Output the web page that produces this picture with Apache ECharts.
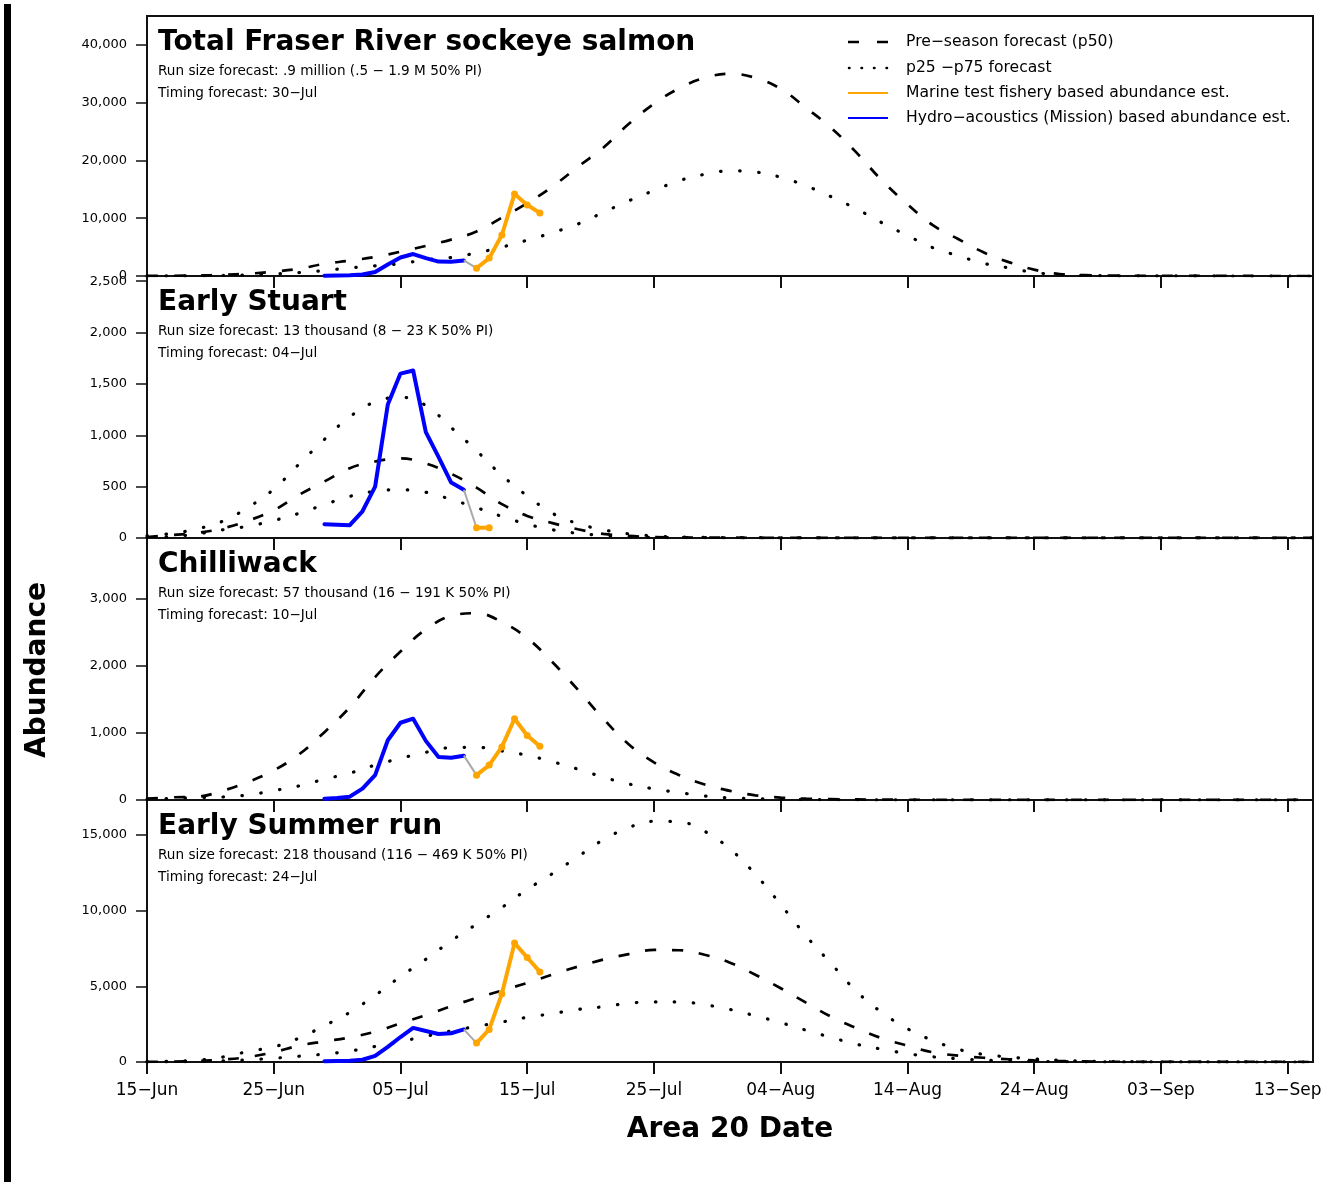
<!DOCTYPE html>
<html>
<head>
<meta charset="utf-8">
<script src="https://cdn.jsdelivr.net/npm/echarts@6/dist/echarts.min.js"></script>
<style>
html,body{margin:0;padding:0;background:#fff;}
#c{width:1330px;height:1182px;}
</style>
</head>
<body>
<div id="c"></div>
<script>
// ---------- X axis (days since 15-Jun) ----------
const forecastDays = [0,2,4,6,8,10,12,14,16,18,20,22,24,26,28,30,32,34,36,38,40,42,44,46,48,50,52,54,56,58,60,62,64,66,68,70,72,74,76,78,80,82,84,86,88,90,92];
const xTickDays = [0,10,20,30,40,50,60,70,80,90];
const xTickLabels = ['15\u2212Jun','25\u2212Jun','05\u2212Jul','15\u2212Jul','25\u2212Jul','04\u2212Aug','14\u2212Aug','24\u2212Aug','03\u2212Sep','13\u2212Sep'];

// ---------- Panel texts ----------
const panelTitles = ['Total Fraser River sockeye salmon','Early Stuart','Chilliwack','Early Summer run'];
const runSizeTexts = [
  'Run size forecast: .9 million (.5 \u2212 1.9 M 50% PI)',
  'Run size forecast: 13 thousand (8 \u2212 23 K 50% PI)',
  'Run size forecast: 57 thousand (16 \u2212 191 K 50% PI)',
  'Run size forecast: 218 thousand (116 \u2212 469 K 50% PI)'
];
const timingTexts = ['Timing forecast: 30\u2212Jul','Timing forecast: 04\u2212Jul','Timing forecast: 10\u2212Jul','Timing forecast: 24\u2212Jul'];

// ---------- Y ticks ----------
const yTicksTotal = [0,10000,20000,30000,40000];
const yTicksStuart = [0,500,1000,1500,2000,2500];
const yTicksChilli = [0,1000,2000,3000];
const yTicksSummer = [0,5000,10000,15000];
const yMaxes = [45000, 2550, 3900, 17300];

// ---------- Total Fraser ----------
const totalP50 = [20,40,90,200,400,750,1250,2100,2650,3300,
  4200,5200,6300,7700,10100,12600,15500,18900,22200,26300,
  29800,32500,34300,35000,34300,32400,29100,25600,21300,16500,
  12400,8800,6400,4100,2400,1100,350,150,70,40,
  20,10,8,5,4,3,2];
const totalP25 = [10,20,40,90,180,350,600,950,1400,1750,
  2150,2800,3200,4000,5000,6200,7500,9000,11000,13000,
  14800,16500,17600,18200,18000,17100,15600,13700,11600,9200,
  7000,4900,3500,2200,1400,600,250,100,50,25,
  12,8,5,4,3,2,1];

// ---------- Early Stuart ----------
const stuartP50 = [10,30,50,95,170,270,420,550,680,745,
  775,725,625,490,330,215,145,85,40,20,
  10,6,4,3,2,2,1,1,1,1,
  1,1,1,1,1,1,1,1,1,1,
  1,1,1,1,1,1,1];
const stuartP75 = [20,45,90,165,300,475,720,960,1180,1325,
  1370,1290,1075,850,610,410,240,140,80,40,
  20,10,6,4,3,2,2,1,1,1,
  1,1,1,1,1,1,1,1,1,1,
  1,1,1,1,1,1,1];
const stuartP25 = [5,15,40,80,115,170,240,325,405,455,
  470,445,375,295,210,135,80,45,25,12,
  6,4,3,2,1,1,1,1,1,1,
  1,1,1,1,1,1,1,1,1,1,
  1,1,1,1,1,1,1];

// ---------- Chilliwack ----------
const chilliP50 = [20,40,50,140,270,440,680,1010,1380,1830,
  2210,2540,2740,2780,2650,2410,2050,1640,1210,830,
  560,370,230,135,70,35,20,12,8,5,
  4,3,2,2,1,1,1,1,1,1,
  1,1,1,1,1,1,1];
const chilliP25 = [10,25,35,45,75,140,210,310,400,520,
  620,710,780,785,730,665,570,460,340,240,
  165,110,60,32,20,12,8,5,4,3,
  2,2,1,1,1,1,1,1,1,1,
  1,1,1,1,1,1,1];

// ---------- Early Summer ----------
const summerP75 = [20,50,120,330,700,1000,1580,2400,3280,4400,
  5640,6780,8000,9100,10200,11400,12440,13560,14670,15480,
  15900,15860,15230,14070,12400,10400,8330,6480,4650,3260,
  2200,1420,840,500,330,200,110,60,35,20,
  12,8,5,4,3,2,1];
const summerP50 = [10,30,70,160,330,650,1080,1360,1620,2000,
  2550,3100,3680,4230,4720,5220,5780,6300,6760,7120,
  7400,7380,7080,6560,5760,4870,3920,2980,2230,1560,
  1080,640,420,280,180,110,60,35,20,12,
  8,5,4,3,2,2,1];
const summerP25 = [5,15,30,70,150,250,380,520,720,1030,
  1350,1700,2050,2350,2640,2950,3200,3470,3650,3880,
  3970,3970,3780,3470,3050,2600,2100,1620,1170,840,
  550,340,220,130,80,45,25,15,8,5,
  4,3,2,2,1,1,1];

// ---------- In-season estimates ----------
const blueDays = [14,15,16,17,18,19,20,21,22,23,24,25];
const totalBlue  = [50,80,120,250,700,2000,3200,3800,3100,2500,2450,2700];
const stuartBlue = [135,130,125,260,500,1300,1600,1630,1030,790,540,470];
const chilliBlue = [20,30,50,170,370,890,1150,1210,880,640,630,660];
const summerBlue = [50,60,80,150,400,1000,1650,2250,2050,1850,1900,2150];

const orangeDays6 = [26,27,28,29,30,31];
const orangeDays2 = [26,27];
const totalOrange  = [1350,3100,7100,14200,12300,10900];
const stuartOrange = [100,100];
const chilliOrange = [370,520,790,1210,960,800];
const summerOrange = [1250,2150,4500,7850,6900,5950];

// ---------- Build ----------
const FONT = 'DejaVu Sans';
const gridTops = [16, 276, 538, 800];
const gridHeights = [260, 262, 262, 262];
const gridLeft = 147, gridWidth = 1166;

const panels = [
  {yTicks: yTicksTotal, p50: totalP50, dots: [totalP25], blue: totalBlue, oDays: orangeDays6, orange: totalOrange},
  {yTicks: yTicksStuart, p50: stuartP50, dots: [stuartP25, stuartP75], blue: stuartBlue, oDays: orangeDays2, orange: stuartOrange},
  {yTicks: yTicksChilli, p50: chilliP50, dots: [chilliP25], blue: chilliBlue, oDays: orangeDays6, orange: chilliOrange},
  {yTicks: yTicksSummer, p50: summerP50, dots: [summerP25, summerP75], blue: summerBlue, oDays: orangeDays6, orange: summerOrange}
];

const pair = (xs, ys) => xs.map((x, i) => [x, ys[i]]);

const grids = [], xAxes = [], yAxes = [], series = [], graphics = [];

panels.forEach((p, i) => {
  grids.push({
    left: gridLeft, top: gridTops[i], width: gridWidth, height: gridHeights[i],
    show: true, borderColor: '#111', borderWidth: 2, backgroundColor: 'transparent',
    outerBoundsMode: 'none'
  });
  xAxes.push({
    gridIndex: i, type: 'value', min: 0, max: 92,
    axisLine: {show: false},
    splitLine: {show: false},
    axisTick: {show: true, inside: false, length: 12, lineStyle: {color: '#111', width: 2}, customValues: xTickDays},
    axisLabel: {
      show: i === 3, customValues: xTickDays, margin: 20,
      fontFamily: FONT, fontSize: 17, color: '#000',
      formatter: v => { const k = xTickDays.indexOf(v); return k >= 0 ? xTickLabels[k] : ''; }
    }
  });
  yAxes.push({
    gridIndex: i, type: 'value', min: 0, max: yMaxes[i],
    axisLine: {show: false},
    splitLine: {show: false},
    axisTick: {show: true, inside: false, length: 11, lineStyle: {color: '#111', width: 1.5}, customValues: p.yTicks},
    axisLabel: {
      show: true, customValues: p.yTicks, margin: 20,
      fontFamily: FONT, fontSize: 13, color: '#000',
      formatter: v => v.toLocaleString('en-US')
    }
  });
  // forecast curves
  series.push({
    type: 'line', xAxisIndex: i, yAxisIndex: i, data: pair(forecastDays, p.p50),
    symbol: 'none', smooth: 0.4, z: 2,
    lineStyle: {color: '#000', width: 2.7, type: [11, 16], cap: 'butt'}
  });
  p.dots.forEach(d => {
    series.push({
      type: 'line', xAxisIndex: i, yAxisIndex: i, data: pair(forecastDays, d),
      symbol: 'none', smooth: 0.4, z: 2,
      lineStyle: {color: '#000', width: 3.2, type: [0.5, 18.5], cap: 'round'}
    });
  });
  // hydro-acoustics
  series.push({
    type: 'line', xAxisIndex: i, yAxisIndex: i, data: pair(blueDays, p.blue),
    symbol: 'none', z: 3,
    lineStyle: {color: '#0000FF', width: 4, join: 'round', cap: 'round'}
  });
  // connector
  series.push({
    type: 'line', xAxisIndex: i, yAxisIndex: i,
    data: [[blueDays[blueDays.length - 1], p.blue[p.blue.length - 1]], [p.oDays[0], p.orange[0]]],
    symbol: 'none', z: 3,
    lineStyle: {color: '#A8A8A8', width: 2}
  });
  // marine test fishery
  series.push({
    type: 'line', xAxisIndex: i, yAxisIndex: i, data: pair(p.oDays, p.orange),
    symbol: 'circle', symbolSize: 7, z: 4,
    itemStyle: {color: '#FFA500', borderWidth: 0},
    lineStyle: {color: '#FFA500', width: 4, join: 'round'}
  });
  // panel texts
  const t = gridTops[i];
  graphics.push({type: 'text', x: 158, y: t + 27, z: 10,
    style: {text: panelTitles[i], fontFamily: FONT, fontSize: 28, fontWeight: 'bold', fill: '#000', align: 'left', verticalAlign: 'middle'}});
  graphics.push({type: 'text', x: 158, y: t + 55, z: 10,
    style: {text: runSizeTexts[i], fontFamily: FONT, fontSize: 13.6, fill: '#000', align: 'left', verticalAlign: 'middle'}});
  graphics.push({type: 'text', x: 158, y: t + 77, z: 10,
    style: {text: timingTexts[i], fontFamily: FONT, fontSize: 13.6, fill: '#000', align: 'left', verticalAlign: 'middle'}});
});

// legend
const legendTexts = ['Pre\u2212season forecast (p50)', 'p25 \u2212p75 forecast', 'Marine test fishery based abundance est.', 'Hydro\u2212acoustics (Mission) based abundance est.'];
const legendY = [42, 68, 93, 118];
graphics.push({type: 'line', shape: {x1: 848, y1: legendY[0], x2: 889, y2: legendY[0]}, style: {stroke: '#000', lineWidth: 2.4, lineDash: [11, 18]}});
graphics.push({type: 'line', shape: {x1: 849, y1: legendY[1], x2: 889, y2: legendY[1]}, style: {stroke: '#000', lineWidth: 2.5, lineDash: [0.5, 12], lineCap: 'round'}});
graphics.push({type: 'line', shape: {x1: 848, y1: legendY[2], x2: 888, y2: legendY[2]}, style: {stroke: '#FFA500', lineWidth: 2}});
graphics.push({type: 'line', shape: {x1: 848, y1: legendY[3], x2: 888, y2: legendY[3]}, style: {stroke: '#0000FF', lineWidth: 2}});
legendTexts.forEach((s, k) => {
  graphics.push({type: 'text', x: 906, y: legendY[k], style: {text: s, fontFamily: FONT, fontSize: 15.6, fill: '#000', align: 'left', verticalAlign: 'middle'}});
});

// axis titles
graphics.push({type: 'text', x: 730, y: 1130, style: {text: 'Area 20 Date', fontFamily: FONT, fontSize: 28, fontWeight: 'bold', fill: '#000', align: 'center', verticalAlign: 'middle'}});
graphics.push({type: 'text', x: 38, y: 670, rotation: Math.PI / 2, style: {text: 'Abundance', fontFamily: FONT, fontSize: 28, fontWeight: 'bold', fill: '#000', align: 'center', verticalAlign: 'middle'}});
// left frame bar
graphics.push({type: 'rect', shape: {x: 4, y: 4, width: 7, height: 1178}, style: {fill: '#000'}});

const chart = echarts.init(document.getElementById('c'));
chart.setOption({
  animation: false,
  backgroundColor: '#fff',
  grid: grids,
  xAxis: xAxes,
  yAxis: yAxes,
  series: series,
  graphic: graphics
});
</script>
</body>
</html>
